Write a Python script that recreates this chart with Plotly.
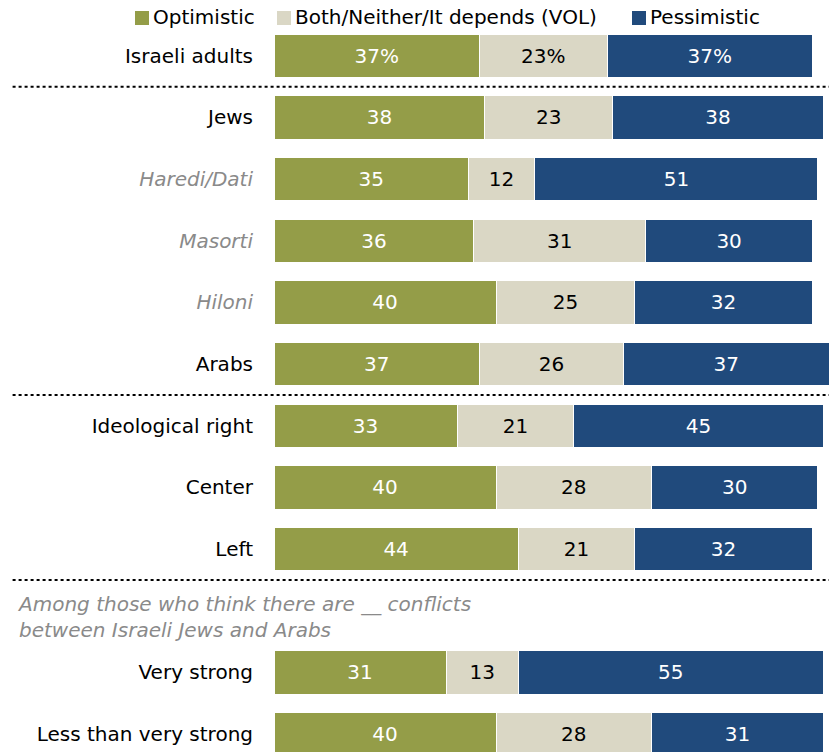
import plotly.graph_objects as go

categories = ["Israeli adults", "Jews", "Haredi/Dati", "Masorti", "Hiloni", "Arabs",
              "Ideological right", "Center", "Left", "Very strong", "Less than very strong"]
italic_cats = ["Haredi/Dati", "Masorti", "Hiloni"]
slots = [0, 1, 2, 3, 4, 5, 6, 7, 8, 10, 11]
optimistic = [37, 38, 35, 36, 40, 37, 33, 40, 44, 31, 40]
both = [23, 23, 12, 31, 25, 26, 21, 28, 21, 13, 28]
pessimistic = [37, 38, 51, 30, 32, 37, 45, 30, 32, 55, 31]
series_names = ["Optimistic", "Both/Neither/It depends (VOL)", "Pessimistic"]
colors = ["#949D48", "#DAD7C5", "#204A7C"]
text_colors = ["white", "black", "white"]
separators = [0.5, 5.5, 8.5]
note = "Among those who think there are __ conflicts<br>between Israeli Jews and Arabs"

FONT = "DejaVu Sans"

fig = go.Figure()
for name, vals, col, tc in zip(series_names, [optimistic, both, pessimistic], colors, text_colors):
    txt = [f"{v}%" if i == 0 else f"{v}" for i, v in enumerate(vals)]
    fig.add_trace(go.Bar(
        y=slots, x=vals, orientation="h", name=name,
        marker=dict(color=col, line=dict(color="white", width=1)),
        width=0.7, text=txt, textposition="inside", insidetextanchor="middle",
        textfont=dict(color=tc, size=20, family=FONT), showlegend=False,
        hoverinfo="skip",
    ))

ticktext = []
for c in categories:
    if c in italic_cats:
        ticktext.append(f"<i><span style='color:#8a8a8a'>{c}</span></i>")
    else:
        ticktext.append(c)

fig.update_layout(
    barmode="stack", width=829, height=752,
    margin=dict(l=274, r=0, t=25, b=0),
    plot_bgcolor="white", paper_bgcolor="white",
    font=dict(family=FONT, size=20, color="black"),
    uniformtext=dict(minsize=20, mode="show"),
    xaxis=dict(range=[0, 100], visible=False, fixedrange=True),
    yaxis=dict(range=[11.29, -0.5], tickvals=slots, ticktext=ticktext,
               showgrid=False, zeroline=False, showline=False,
               ticks="", ticklabelstandoff=20, tickfont=dict(size=20, family=FONT)),
)

for s in separators:
    fig.add_shape(type="line", xref="paper", yref="y", x0=-0.471, x1=1, y0=s, y1=s,
                  line=dict(color="black", width=2, dash="dot"))

fig.add_annotation(text=note, xref="paper", yref="y", x=(15 - 274) / 555, y=9.1,
                   xanchor="left", yanchor="middle", align="left", showarrow=False,
                   font=dict(family=FONT, size=20, color="#8a8a8a", style="italic"))

# legend
legend_x = [135, 277, 632]
for lx, name, col in zip(legend_x, series_names, colors):
    fig.add_shape(type="rect", xref="paper", yref="paper",
                  x0=(lx - 274) / 555, x1=(lx + 14 - 274) / 555,
                  y0=(752 - 25) / 727, y1=(752 - 11) / 727,
                  fillcolor=col, line=dict(width=0))
    fig.add_annotation(text=name, xref="paper", yref="paper",
                       x=(lx + 16 - 274) / 555, y=(752 - 17) / 727,
                       xanchor="left", yanchor="middle", showarrow=False,
                       font=dict(family=FONT, size=20, color="black"))

fig.write_html("out.html")
